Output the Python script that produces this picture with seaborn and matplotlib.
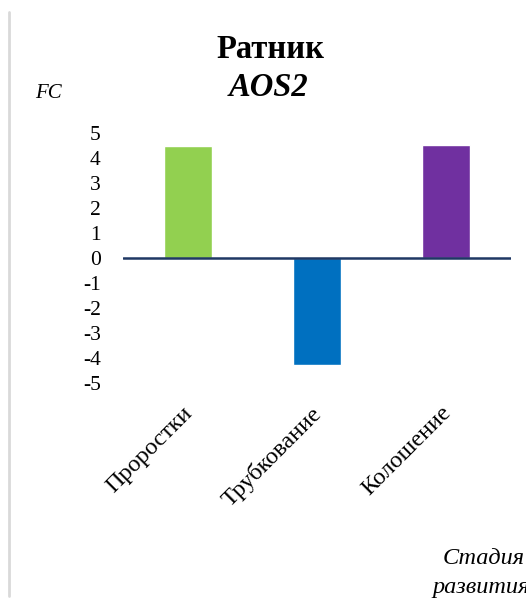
import matplotlib
matplotlib.use("Agg")
import matplotlib.pyplot as plt
from matplotlib.lines import Line2D
from matplotlib.transforms import ScaledTranslation
import seaborn as sns
import pandas as pd

stages = ["Проростки", "Трубкование", "Колошение"]
fc_values = [4.48, -4.26, 4.52]
bar_colors = ["#92D050", "#0070C0", "#7030A0"]
yticks = [5, 4, 3, 2, 1, 0, -1, -2, -3, -4, -5]

SERIF = "Liberation Serif"

sns.set_theme(style="white")
plt.rcParams["font.family"] = [SERIF, "DejaVu Serif"]
plt.rcParams["text.color"] = "black"

df = pd.DataFrame({"stage": stages, "fc": fc_values})

fig = plt.figure(figsize=(5.26, 5.98), dpi=100)
ax_left, ax_right, ax_top, ax_bottom = 123, 511, 133.5, 383
ax = fig.add_axes([ax_left / 526, 1 - ax_bottom / 598,
                   (ax_right - ax_left) / 526, (ax_bottom - ax_top) / 598])

sns.barplot(data=df, x="stage", y="fc", hue="stage", palette=bar_colors,
            width=0.37, legend=False, ax=ax, saturation=1)

ax.set_ylim(-5, 5)
ax.set_xlim(-0.5, 2.5)
ax.set_yticks(yticks)
ax.set_yticklabels([str(v) for v in yticks], fontsize=15.5, color="black",
                   fontfamily=SERIF)
ax.tick_params(axis="y", length=0, pad=16)
ax.set_xticks(range(len(stages)))
ax.set_xticklabels(stages, rotation=45, ha="right", rotation_mode="anchor",
                   fontsize=17.5, color="black", fontfamily=SERIF)
ax.tick_params(axis="x", length=0, pad=14)
shift = ScaledTranslation(-6 / 100, 0, fig.dpi_scale_trans)
for lbl in ax.get_xticklabels():
    lbl.set_transform(lbl.get_transform() + shift)
ax.set_xlabel("")
ax.set_ylabel("")
for s in ax.spines.values():
    s.set_visible(False)
ax.axhline(0, color="#1F3864", linewidth=1.8, zorder=3)

fig.text(270 / 526, 1 - 50 / 598, "Ратник", ha="center", va="center",
         fontsize=23.5, fontweight="bold", fontfamily=SERIF)
fig.text(269 / 526, 1 - 88 / 598, "AOS2", ha="center", va="center",
         fontsize=23.5, fontweight="bold", style="italic", fontfamily=SERIF)
fig.text(35 / 526, 1 - 94 / 598, "FC", ha="left", va="center",
         fontsize=15, style="italic", fontfamily=SERIF)
fig.text(443 / 526, 1 - 558 / 598, "Стадия", ha="left", va="center",
         fontsize=17.5, style="italic", fontfamily=SERIF)
fig.text(432 / 526, 1 - 587 / 598, "развития", ha="left", va="center",
         fontsize=17.5, style="italic", fontfamily=SERIF)

fig.add_artist(Line2D([9.5 / 526, 9.5 / 526], [1 - 12 / 598, 1 - 596 / 598],
                      color="#d9d9d9", linewidth=2, transform=fig.transFigure))

fig.savefig("out.png", dpi=100)
